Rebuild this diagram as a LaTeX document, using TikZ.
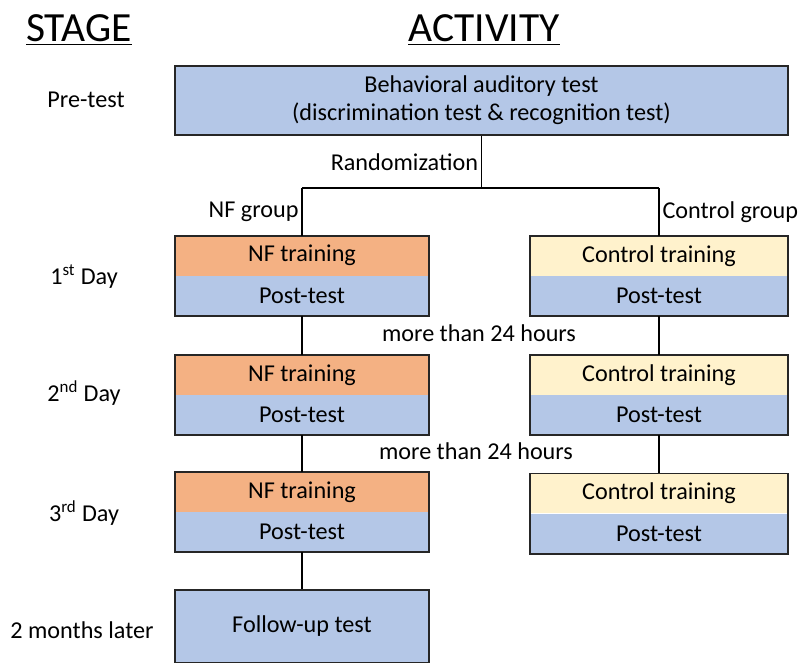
\documentclass[tikz,border=0pt]{standalone}
\usepackage{fontspec}
\setmainfont{Carlito}
\usetikzlibrary{positioning}
\definecolor{testblue}{HTML}{B4C7E7}
\definecolor{nforange}{HTML}{F4B183}
\definecolor{ctrlyellow}{HTML}{FFF2CC}
\tikzset{
    txt/.style={font=\fontsize{17.2}{19}\selectfont, inner sep=2pt},
    half/.style={txt, minimum height=0.99cm, inner sep=0pt},
    nfhalf/.style={half, minimum width=6.35cm},
    ctrlhalf/.style={half, minimum width=6.45cm},
    boxline/.style={line width=1.3pt, draw=black!85},
    link/.style={line width=1pt}
}
\begin{document}
\begin{tikzpicture}[x=0.025cm, y=-0.025cm]
            \useasboundingbox (0,0) rectangle (804,663);
            \node[font=\fontsize{29.5}{32}\selectfont] (stage) at (79,30) {\underline{STAGE}};
            \node[font=\fontsize{29.5}{32}\selectfont] (activity) at (484,30) {\underline{ACTIVITY}};
            % stage labels
            \node[txt] (spre) at (86,100) {Pre-test};
            \node[txt] (sday1) at (84,277) {1\textsuperscript{st} Day};
            \node[txt] (sday2) at (84,393) {2\textsuperscript{nd} Day};
            \node[txt] (sday3) at (84,513) {3\textsuperscript{rd} Day};
            \node[txt] (slater) at (82,630) {2 months later};
            % pre-test
            \node[txt, boxline, fill=testblue, minimum width=15.325cm, minimum height=1.725cm, align=center] (pre) at (481.5,100.5)
                {Behavioral auditory test\\[1pt](discrimination test \& recognition test)};
            % NF group
            \node[nfhalf, fill=nforange] (nf1t) at (302,255.75) {NF training};
            \node[nfhalf, fill=testblue, below=0pt of nf1t] (nf1p) {Post-test};
            \node[nfhalf, fill=nforange] (nf2t) at (302,375) {NF training};
            \node[nfhalf, fill=testblue, below=0pt of nf2t] (nf2p) {Post-test};
            \node[nfhalf, fill=nforange] (nf3t) at (302,492) {NF training};
            \node[nfhalf, fill=testblue, below=0pt of nf3t] (nf3p) {Post-test};
            \node[nfhalf, boxline, fill=testblue, minimum height=1.825cm] (follow) at (302,626.5) {Follow-up test};
            % control group
            \node[ctrlhalf, fill=ctrlyellow] (ct1t) at (659,255.75) {Control training};
            \node[ctrlhalf, fill=testblue, below=0pt of ct1t] (ct1p) {Post-test};
            \node[ctrlhalf, fill=ctrlyellow] (ct2t) at (659,375) {Control training};
            \node[ctrlhalf, fill=testblue, below=0pt of ct2t] (ct2p) {Post-test};
            \node[ctrlhalf, fill=ctrlyellow] (ct3t) at (659,493.5) {Control training};
            \node[ctrlhalf, fill=testblue, below=0pt of ct3t] (ct3p) {Post-test};
            \draw[boxline] (nf1t.north west) rectangle (nf1p.south east);
            \draw[boxline] (nf2t.north west) rectangle (nf2p.south east);
            \draw[boxline] (nf3t.north west) rectangle (nf3p.south east);
            \draw[boxline] (ct1t.north west) rectangle (ct1p.south east);
            \draw[boxline] (ct2t.north west) rectangle (ct2p.south east);
            \draw[boxline] (ct3t.north west) rectangle (ct3p.south east);
            % randomization
            \coordinate (split) at (pre.south |- 0,188);
            \coordinate (nfsplit) at (nf1t.north |- split);
            \coordinate (ctsplit) at (ct1t.north |- split);
            \draw[link] (pre.south) -- node[txt, left] {Randomization} (split);
            \draw[link] (nfsplit) -- (ctsplit);
            \draw[link] (nfsplit) -- node[txt, left] {NF group} (nf1t.north);
            \draw[link] (ctsplit) -- node[txt, right] {Control group} (ct1t.north);
            % days
            \draw[link] (nf1p.south) -- (nf2t.north);
            \draw[link] (nf2p.south) -- (nf3t.north);
            \draw[link] (nf3p.south) -- (follow.north);
            \draw[link] (ct1p.south) -- (ct2t.north);
            \draw[link] (ct2p.south) -- (ct3t.north);
            \node[txt] (gap1) at (479,333) {more than 24 hours};
            \node[txt] (gap2) at (476,451) {more than 24 hours};
\end{tikzpicture}
\end{document}
